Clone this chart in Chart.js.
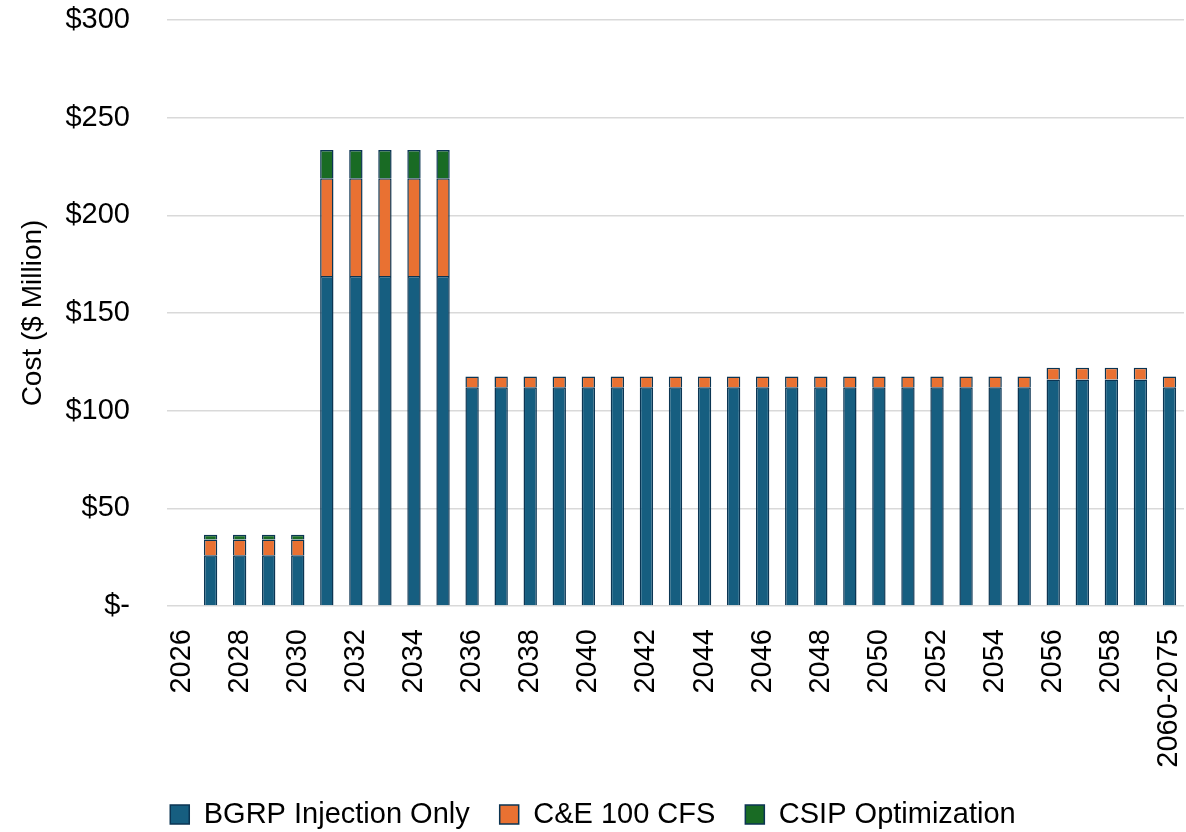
<!DOCTYPE html>
<html>
<head>
<meta charset="utf-8">
<script src="https://cdn.jsdelivr.net/npm/chart.js@4/dist/chart.umd.min.js"></script>
<style>
    html, body { margin: 0; padding: 0; background: #fff; }
    #wrap { width: 1186px; height: 832px; }
</style>
</head>
<body>
<div id="wrap"><canvas id="costChart"></canvas></div>
<script>
const years = [
    "2026", "2027", "2028", "2029", "2030", "2031", "2032", "2033", "2034", "2035",
    "2036", "2037", "2038", "2039", "2040", "2041", "2042", "2043", "2044", "2045",
    "2046", "2047", "2048", "2049", "2050", "2051", "2052", "2053", "2054", "2055",
    "2056", "2057", "2058", "2059", "2060-2075"
];

const bgrpInjection = [
    0, 26, 26, 26, 26, 169, 169, 169, 169, 169,
    112, 112, 112, 112, 112, 112, 112, 112, 112, 112,
    112, 112, 112, 112, 112, 112, 112, 112, 112, 112,
    116, 116, 116, 116, 112
];

const ce100cfs = [
    0, 8, 8, 8, 8, 50, 50, 50, 50, 50,
    5.5, 5.5, 5.5, 5.5, 5.5, 5.5, 5.5, 5.5, 5.5, 5.5,
    5.5, 5.5, 5.5, 5.5, 5.5, 5.5, 5.5, 5.5, 5.5, 5.5,
    6, 6, 6, 6, 5.5
];

const csipOptimization = [
    0, 2.5, 2.5, 2.5, 2.5, 14.5, 14.5, 14.5, 14.5, 14.5,
    0, 0, 0, 0, 0, 0, 0, 0, 0, 0,
    0, 0, 0, 0, 0, 0, 0, 0, 0, 0,
    0, 0, 0, 0, 0
];

const yTicks = [0, 50, 100, 150, 200, 250, 300];

const mainFont = "'Liberation Sans', Arial, sans-serif";
const edge = "#0b3553";

function barSet(label, data, color) {
    return {
        label: label,
        data: data,
        backgroundColor: color,
        borderColor: edge,
        borderWidth: 1.5,
        barPercentage: 0.46,
        categoryPercentage: 1.0,
    };
}

new Chart(document.getElementById("costChart"), {
    type: "bar",
    data: {
        labels: years,
        datasets: [
            barSet("BGRP Injection Only", bgrpInjection, "#165e80"),
            barSet("C&E 100 CFS", ce100cfs, "#e97132"),
            barSet("CSIP Optimization", csipOptimization, "#196b24"),
        ],
    },
    options: {
        responsive: true,
        maintainAspectRatio: false,
        animation: false,
        layout: { padding: 0 },
        plugins: {
            tooltip: { enabled: false },
            legend: {
                position: "bottom",
                maxHeight: 62,
                labels: {
                    color: "#000",
                    font: { family: mainFont, size: 29 },
                    boxWidth: 19,
                    boxHeight: 19,
                    padding: 30,
                    generateLabels: (chart) => chart.data.datasets.map((ds, i) => ({
                        text: ds.label,
                        fillStyle: ds.backgroundColor,
                        strokeStyle: edge,
                        lineWidth: 1.5,
                        datasetIndex: i,
                    })),
                },
            },
        },
        scales: {
            x: {
                stacked: true,
                grid: { display: false },
                border: { display: false },
                afterFit: (s) => {
                    s.height = 164;
                    s.paddingLeft = 0;
                    s.paddingRight = 2;
                },
                ticks: {
                    color: "#000",
                    font: { family: mainFont, size: 29 },
                    autoSkip: false,
                    minRotation: 90,
                    maxRotation: 90,
                    padding: 15,
                    callback: function (value, index) {
                        return index % 2 === 0 ? this.getLabelForValue(value) : "";
                    },
                },
            },
            y: {
                stacked: true,
                min: 0,
                max: 300,
                afterBuildTicks: (axis) => {
                    axis.ticks = yTicks.map((v) => ({ value: v }));
                },
                afterFit: (s) => {
                    s.width = 167;
                    s.paddingTop = 20;
                    s.paddingBottom = 0;
                },
                grid: { color: "#d9d9d9", lineWidth: 1.5, drawTicks: false },
                border: { display: false },
                ticks: {
                    color: "#000",
                    font: { family: mainFont, size: 29 },
                    padding: 37,
                    callback: (v) => (v === 0 ? "$-" : "$" + v),
                },
                title: {
                    display: true,
                    text: "Cost ($ Million)",
                    color: "#000",
                    font: { family: mainFont, size: 28 },
                    padding: { top: 16, bottom: 0 },
                },
            },
        },
    },
});
</script>
</body>
</html>
